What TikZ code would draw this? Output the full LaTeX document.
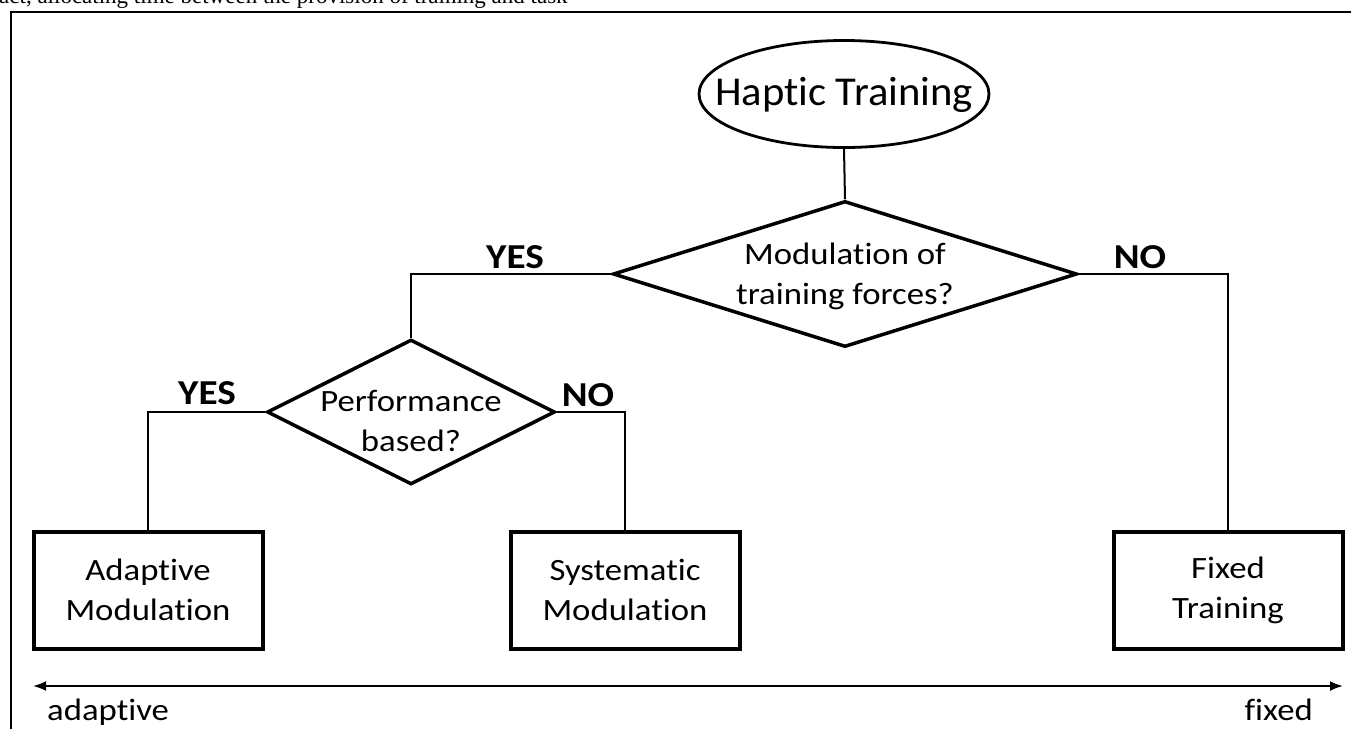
\documentclass[tikz,border=0pt]{standalone}
\usepackage{fontspec}
\setmainfont{Carlito}[Ligatures=NoCommon]
\newfontfamily\widefont{Carlito}[Ligatures=NoCommon,FakeStretch=1.12]
\newfontfamily\titlefont{Carlito}[Ligatures=NoCommon,FakeStretch=1.04]
\newfontfamily\timesfont{Liberation Serif}
\usetikzlibrary{shapes.geometric,arrows.meta}
\begin{document}
\begin{tikzpicture}[x=1pt,y=-1pt,
  conn/.style={line width=2pt},
  shapebox/.style={draw,line width=4pt,rectangle,minimum width=229pt,minimum height=117pt,inner sep=0pt,align=center,font=\widefont\fontsize{31}{40}\selectfont},
  decision/.style={draw,line width=3.5pt,diamond,inner sep=0pt},
  dtext/.style={align=center,inner sep=0pt,font=\widefont\fontsize{31}{40}\selectfont},
  answer/.style={font=\widefont\bfseries\fontsize{35}{40}\selectfont},
  scalelabel/.style={font=\widefont\fontsize{31}{38}\selectfont}]
\useasboundingbox (0,0) rectangle (1351,729);
% frame and cut caption text
\draw[line width=2.2pt] (11,729) -- (11,12) -- (1360,12);
\node[anchor=base west,inner sep=0pt,font=\timesfont\fontsize{23}{26}\selectfont] (cap) at (-1,3) {act, allocating time between the provision of training and task};
% start
\node[draw,ellipse,line width=2.8pt,minimum width=290pt,minimum height=107pt,inner sep=0pt] (ht) at (844,94) {};
\node[anchor=base,inner sep=0pt,font=\titlefont\fontsize{41}{48}\selectfont] (htt) at (844,105) {Haptic Training};
% decisions
\node[decision,aspect=3.18,minimum width=464pt,minimum height=146pt] (d1) at (845,274) {};
\node[dtext] (d1t) at (845,276) {Modulation of\\training forces?};
\node[decision,aspect=1.99,minimum width=288pt,minimum height=145pt] (d2) at (411,412) {};
\node[dtext] (d2t) at (411,421) {Performance\\based?};
% outcomes
\node[shapebox] (am) at (148,590) {Adaptive\\Modulation};
\node[shapebox] (sm) at (625,590) {Systematic\\Modulation};
\node[shapebox] (ft) at (1228,590) {Fixed\\Training};
% connectors
\draw[conn] (ht.south) -- (d1.north);
\draw[conn] (d1.west) -| (d2.north);
\draw[conn] (d1.east) -| (ft.north);
\draw[conn] (d2.west) -| (am.north);
\draw[conn] (d2.east) -| (sm.north);
% answers
\node[answer] (y1) at (515,257) {YES};
\node[answer] (n1) at (1140,257) {NO};
\node[answer] (y2) at (207,393) {YES};
\node[answer] (n2) at (588,395) {NO};
% scale arrow
\coordinate (al) at (33,686);
\coordinate (ar) at (1343,686);
\draw[conn,{Latex[length=13pt,width=10pt]}-{Latex[length=13pt,width=10pt]}] (al) -- (ar);
\node[scalelabel,anchor=base west,inner sep=0pt] (ad) at (47,720) {adaptive};
\node[scalelabel,anchor=base east,inner sep=0pt] (fx) at (1313,720) {fixed};
\end{tikzpicture}
\end{document}
